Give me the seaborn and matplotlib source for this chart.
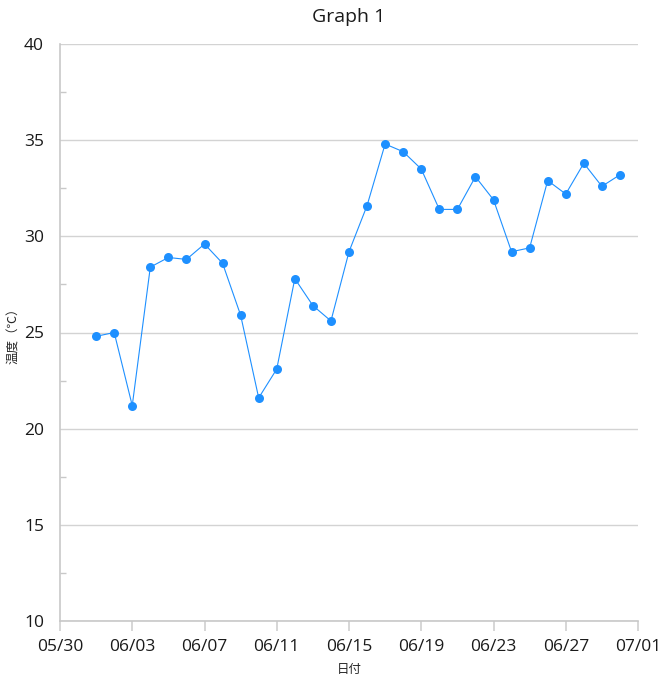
import matplotlib
matplotlib.use("Agg")
import matplotlib.pyplot as plt
import matplotlib.dates as mdates
import seaborn as sns
import pandas as pd
from matplotlib.ticker import MultipleLocator

# データ
dates = pd.date_range("2023-06-01", "2023-06-30", freq="D")
temps = [24.8, 25.0, 21.2, 28.4, 28.9, 28.8, 29.6, 28.6, 25.9, 21.6,
         23.1, 27.8, 26.4, 25.6, 29.2, 31.6, 34.8, 34.4, 33.5, 31.4,
         31.4, 33.1, 31.9, 29.2, 29.4, 32.9, 32.2, 33.8, 32.6, 33.2]
df = pd.DataFrame({"日付": dates, "温度": temps})

sns.set_style("white")
plt.rcParams['font.family'] = ['Open Sans', 'Noto Sans CJK JP', 'DejaVu Sans']
plt.rcParams['text.color'] = "#1a1a1a"
plt.rcParams['xtick.labelcolor'] = "#1a1a1a"
plt.rcParams['ytick.labelcolor'] = "#1a1a1a"

fig = plt.figure(figsize=(6.62, 6.88), dpi=100)
ax = fig.add_axes([60/662, 1-621/688, 578/662, 577/688])

sns.lineplot(data=df, x="日付", y="温度", ax=ax, color="#1e90ff",
             linewidth=0.8, marker="o", markersize=6.5, markeredgewidth=0)

ax.set_xlim(pd.Timestamp("2023-05-30"), pd.Timestamp("2023-07-01"))
ax.set_ylim(10, 40)
ax.set_xticks(pd.date_range("2023-05-30", "2023-07-01", freq="4D"))
ax.xaxis.set_major_formatter(mdates.DateFormatter("%m/%d"))
ax.yaxis.set_major_locator(MultipleLocator(5))
ax.yaxis.set_minor_locator(MultipleLocator(2.5))

ax.grid(axis="y", which="major", color="#d3d3d3", linewidth=1)
for s in ["top", "right"]:
    ax.spines[s].set_visible(False)
for s in ["left", "bottom"]:
    ax.spines[s].set_color("#c8c8c8")
    ax.spines[s].set_linewidth(1.2)

ax.tick_params(axis="x", which="major", bottom=True, length=7, width=1.2,
               color="#d0d0d0", labelsize=12.5, pad=6)
ax.tick_params(axis="y", which="major", left=False, labelsize=12.5, pad=8)
ax.tick_params(axis="y", which="minor", left=True, direction="in", length=4,
               width=1, color="#c8c8c8")

ax.set_xlabel("日付", fontsize=9)
ax.set_ylabel("温度（℃）", fontsize=9)
ax.yaxis.set_label_coords(-40/578, 0.5)
ax.xaxis.set_label_coords(0.5, -42/577)
ax.set_title("Graph 1", fontsize=14, pad=16)

fig.savefig("out.png", dpi=100)
